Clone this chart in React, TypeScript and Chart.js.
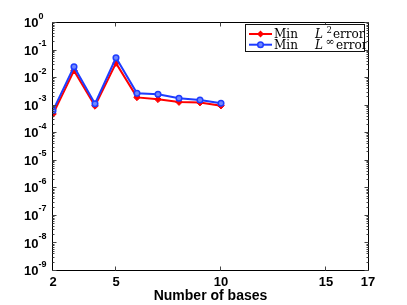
import React, { useEffect, useRef } from "react";
import Chart from "chart.js/auto";

const bases = [2, 3, 4, 5, 6, 7, 8, 9, 10];
const minL2Error = [5.0e-4, 1.86e-2, 9.8e-4, 3.5e-2, 2.0e-3, 1.7e-3, 1.35e-3, 1.29e-3, 1.0e-3];
const minLinfError = [6.6e-4, 2.6e-2, 1.18e-3, 5.5e-2, 2.8e-3, 2.6e-3, 1.86e-3, 1.6e-3, 1.22e-3];
const xTicks = [2, 5, 10, 15, 17];
const yExponents = [-9, -8, -7, -6, -5, -4, -3, -2, -1, 0];
const xTitle = "Number of bases";
const legendLabels = [
  { pre: "Min", sup: "2", post: "error" },
  { pre: "Min", sup: "\u221E", post: "error" },
];

const RED = "rgb(255,0,0)";
const BLUE = "rgb(30,60,255)";
const BLUE_FILL = "rgb(110,135,255)";
const SERIF = "'DejaVu Serif', 'Liberation Serif', serif";

const framePlugin = {
  id: "matlabFrame",
  afterDraw(chart: any) {
    const ctx = chart.ctx as CanvasRenderingContext2D;
    const xs = chart.scales.x;
    const ys = chart.scales.y;
    const { left, right, top, bottom } = chart.chartArea;
    const L = Math.round(left) - 0.5;
    const R = Math.round(right) + 0.5;
    const T = Math.round(top) - 0.5;
    const B = Math.round(bottom) - 0.5;
    ctx.save();
    ctx.strokeStyle = "#000";
    ctx.lineWidth = 1;
    ctx.beginPath();
    ctx.moveTo(L, T);
    ctx.lineTo(R, T);
    ctx.lineTo(R, B);
    ctx.lineTo(L, B);
    ctx.closePath();
    ctx.stroke();
    ctx.strokeStyle = "#444";
    ctx.beginPath();
    for (let i = 0; i < yExponents.length; i++) {
      const k = yExponents[i];
      const yMaj = Math.round(ys.getPixelForValue(Math.pow(10, k))) - 0.5;
      ctx.moveTo(L, yMaj);
      ctx.lineTo(L + 4, yMaj);
      ctx.moveTo(R, yMaj);
      ctx.lineTo(R - 4, yMaj);
      if (k < 0) {
        for (let m = 2; m <= 9; m++) {
          const y = Math.round(ys.getPixelForValue(m * Math.pow(10, k))) - 0.5;
          ctx.moveTo(L, y);
          ctx.lineTo(L + 2, y);
          ctx.moveTo(R, y);
          ctx.lineTo(R - 2, y);
        }
      }
    }
    for (const v of xTicks) {
      if (v === xs.min || v === xs.max) continue;
      const x = Math.round(xs.getPixelForValue(v)) - 0.5;
      ctx.moveTo(x, B);
      ctx.lineTo(x, B - 4);
      ctx.moveTo(x, T);
      ctx.lineTo(x, T + 4);
    }
    ctx.stroke();

    ctx.fillStyle = "#000";
    for (const k of yExponents) {
      const y = ys.getPixelForValue(Math.pow(10, k));
      ctx.font = "bold 13px 'Liberation Sans', Arial, sans-serif";
      ctx.textAlign = "left";
      ctx.textBaseline = "middle";
      const baseX = 24;
      ctx.fillText("10", baseX, y + 0.5);
      const w = ctx.measureText("10").width;
      ctx.font = "bold 9px 'Liberation Sans', Arial, sans-serif";
      ctx.textBaseline = "alphabetic";
      ctx.fillText(String(k), baseX + w, y - 4.5);
    }

    const bx = 245.5, by = 24.5, bw = 119, bh = 27;
    ctx.fillStyle = "#fff";
    ctx.fillRect(bx, by, bw, bh);
    ctx.strokeStyle = "#111";
    ctx.lineWidth = 1;
    ctx.strokeRect(bx, by, bw, bh);
    const rows = [34, 44.7];
    const colors = [RED, BLUE];
    for (let i = 0; i < legendLabels.length; i++) {
      const ry = rows[i];
      ctx.strokeStyle = colors[i];
      ctx.lineWidth = 2;
      ctx.beginPath();
      ctx.moveTo(249, ry);
      ctx.lineTo(272, ry);
      ctx.stroke();
      const mx = 260.5;
      if (i === 0) {
        ctx.fillStyle = RED;
        ctx.beginPath();
        ctx.moveTo(mx, ry - 3.5);
        ctx.lineTo(mx + 3.5, ry);
        ctx.lineTo(mx, ry + 3.5);
        ctx.lineTo(mx - 3.5, ry);
        ctx.closePath();
        ctx.fill();
      } else {
        ctx.fillStyle = BLUE_FILL;
        ctx.strokeStyle = BLUE;
        ctx.lineWidth = 1.5;
        ctx.beginPath();
        ctx.arc(mx, ry, 2.8, 0, Math.PI * 2);
        ctx.fill();
        ctx.stroke();
      }
      ctx.save();
      ctx.beginPath();
      ctx.rect(bx, by - 5, 121, bh + 10);
      ctx.clip();
      ctx.fillStyle = "#000";
      ctx.textAlign = "left";
      ctx.textBaseline = "alphabetic";
      const base = ry + 3.8;
      const lab = legendLabels[i];
      ctx.font = `12px ${SERIF}`;
      ctx.fillText(lab.pre, 274, base);
      ctx.font = `italic 12px ${SERIF}`;
      ctx.fillText("L", 315, base);
      if (i === 0) {
        ctx.font = `8.5px ${SERIF}`;
        ctx.fillText(lab.sup, 326.5, base - 4.5);
        ctx.font = `12px ${SERIF}`;
        ctx.fillText(lab.post, 333, base);
      } else {
        ctx.font = `11px ${SERIF}`;
        ctx.fillText(lab.sup, 325.5, base - 3.5);
        ctx.font = `12px ${SERIF}`;
        ctx.fillText(lab.post, 336, base);
      }
      ctx.restore();
    }
    ctx.restore();
  },
};

export default function App() {
  const ref = useRef<HTMLCanvasElement | null>(null);
  useEffect(() => {
    if (!ref.current) return;
    const chart = new Chart(ref.current, {
      type: "line",
      data: {
        labels: bases,
        datasets: [
          {
            label: "Min L2 error",
            data: bases.map((b, i) => ({ x: b, y: minL2Error[i] })),
            borderColor: RED,
            backgroundColor: RED,
            borderWidth: 2,
            pointStyle: "rectRot",
            pointRadius: 3.3,
            pointBorderWidth: 1,
            pointBackgroundColor: RED,
            pointBorderColor: RED,
            tension: 0,
            order: 2,
          },
          {
            label: "Min Linf error",
            data: bases.map((b, i) => ({ x: b, y: minLinfError[i] })),
            borderColor: BLUE,
            backgroundColor: BLUE_FILL,
            borderWidth: 2,
            pointStyle: "circle",
            pointRadius: 2.8,
            pointBorderWidth: 1.5,
            pointBackgroundColor: BLUE_FILL,
            pointBorderColor: BLUE,
            tension: 0,
            order: 1,
          },
        ],
      },
      options: {
        animation: false,
        responsive: false,
        devicePixelRatio: 1,
        layout: { padding: { top: 23, right: 39, left: 0, bottom: 0 } },
        plugins: {
          legend: { display: false },
          tooltip: { enabled: false },
        },
        scales: {
          x: {
            type: "linear",
            min: 2,
            max: 17,
            afterBuildTicks: (scale: any) => {
              scale.ticks = xTicks.map((v) => ({ value: v }));
            },
            afterFit: (scale: any) => {
              scale.height = 34;
            },
            grid: { display: false, drawTicks: false },
            border: { display: false },
            ticks: {
              color: "#000",
              padding: 4,
              maxRotation: 0,
              autoSkip: false,
              font: { family: "'Liberation Sans', Arial, sans-serif", size: 13, weight: "bold" },
              callback: (v: any) => String(v),
            },
            title: {
              display: true,
              text: xTitle,
              color: "#000",
              padding: { top: 0, bottom: 0 },
              font: { family: "'Liberation Sans', Arial, sans-serif", size: 14, weight: "bold" },
            },
          },
          y: {
            type: "logarithmic",
            min: 1e-9,
            max: 1,
            afterFit: (scale: any) => {
              scale.width = 53;
            },
            grid: { display: false, drawTicks: false },
            border: { display: false },
            ticks: { display: false },
          },
        },
      },
      plugins: [framePlugin],
    });
    return () => chart.destroy();
  }, []);
  return (
    <div style={{ position: "fixed", left: 0, top: 0, width: 407, height: 305, background: "#fff" }}>
      <canvas ref={ref} width={407} height={305} style={{ width: 407, height: 305, display: "block" }} />
    </div>
  );
}
